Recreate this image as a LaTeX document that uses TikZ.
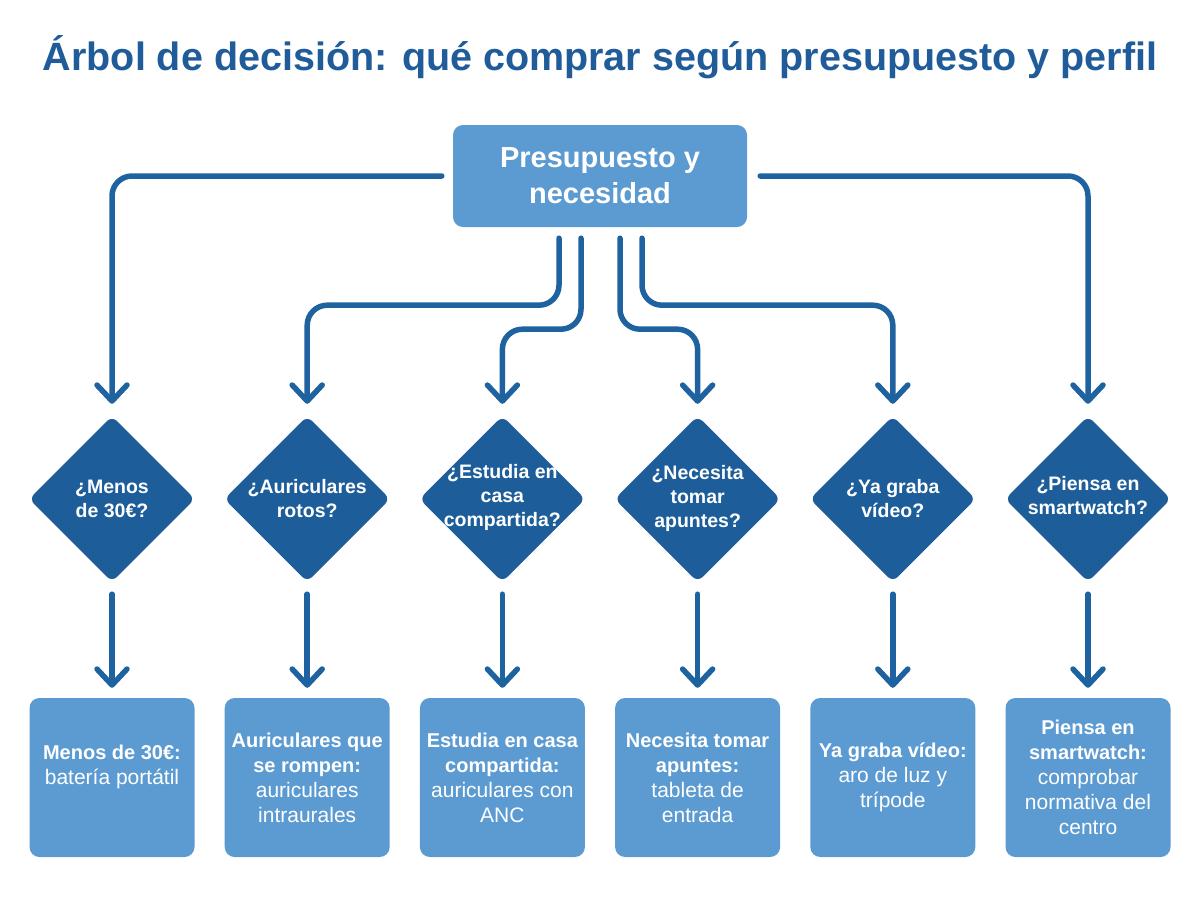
\documentclass[tikz,border=0pt]{standalone}
\usepackage{fontspec}
\setmainfont{Liberation Sans}
\usetikzlibrary{arrows.meta,shapes.geometric,calc}
\definecolor{titleblue}{HTML}{1F5C99}
\definecolor{lightbox}{HTML}{5B9BD1}
\definecolor{darkdia}{HTML}{1D5E9A}
\definecolor{lineblue}{HTML}{1F62A0}
\newcommand{\rg}[1]{{\fontsize{21}{25}\selectfont #1}}
\tikzset{
  topbox/.style={fill=lightbox, rounded corners=10pt, minimum width=294pt, minimum height=102pt, inner sep=0pt},
  dia/.style={diamond, fill=darkdia, rounded corners=7pt, minimum width=166pt, minimum height=166pt, inner sep=0pt},
  leaf/.style={fill=lightbox, rounded corners=10pt, minimum width=165pt, minimum height=159pt, inner sep=0pt},
  wtext/.style={text=white, align=center, font=\fontsize{20}{25}\selectfont, inner sep=0pt},
  dtext/.style={wtext, font=\bfseries\fontsize{19.5}{24}\selectfont},
  conn/.style={draw=lineblue, line width=5.5pt, line cap=round, line join=round, rounded corners=20pt,
    -{Straight Barb[length=16pt, width=30pt, line cap=round, line join=round]}},
}
\begin{document}
\begin{tikzpicture}[x=1pt,y=-1pt]
\useasboundingbox (0,0) rectangle (1200,900);
\fill[white] (0,0) rectangle (1200,900);
\node[anchor=base, text=titleblue, font=\bfseries\fontsize{39.5}{44}\selectfont, inner sep=0pt] (title) at (600,70) {Árbol de decisión: qué comprar según presupuesto y perfil};

\node[topbox] (top) at (600,176) {};
\node[wtext, font=\bfseries\fontsize{29}{36}\selectfont] (topt) at (600,176) {Presupuesto y\\necesidad};

\foreach \i/\x in {1/112,2/307.2,3/502.4,4/697.6,5/892.8,6/1088}{
  \node[dia] (d\i) at (\x,499) {};
  \node[leaf] (b\i) at (\x,777.5) {};
  \coordinate (dt\i) at ($(d\i.north)+(0,-12)$);
}
\node[dtext] (d1t) at (d1) {¿Menos\\de 30€?};
\node[dtext] (d2t) at (d2) {¿Auriculares\\rotos?};
\node[dtext] (d3t) at ($(d3)+(0,-2)$) {¿Estudia en\\casa\\compartida?};
\node[dtext] (d4t) at ($(d4)+(0,-1)$) {¿Necesita\\tomar\\apuntes?};
\node[dtext] (d5t) at (d5) {¿Ya graba\\vídeo?};
\node[dtext] (d6t) at ($(d6)+(0,-3)$) {¿Piensa en\\smartwatch?};

\node[wtext] (b1t) at ($(b1)+(0,-11)$) {\textbf{Menos de 30€:}\\\rg{batería portátil}};
\node[wtext] (b2t) at (b2) {\textbf{Auriculares que}\\\textbf{se rompen:}\\\rg{auriculares}\\\rg{intraurales}};
\node[wtext] (b3t) at (b3) {\textbf{Estudia en casa}\\\textbf{compartida:}\\\rg{auriculares con}\\\rg{ANC}};
\node[wtext] (b4t) at (b4) {\textbf{Necesita tomar}\\\textbf{apuntes:}\\\rg{tableta de}\\\rg{entrada}};
\node[wtext] (b5t) at (b5) {\textbf{Ya graba vídeo:}\\\rg{aro de luz y}\\\rg{trípode}};
\node[wtext] (b6t) at (b6) {\textbf{Piensa en}\\\textbf{smartwatch:}\\\rg{comprobar}\\\rg{normativa del}\\\rg{centro}};

\draw[conn] ([xshift=-11pt]top.west) -| (dt1);
\draw[conn] ([xshift=-41pt,yshift=-11pt]top.south) -- ++(0,67) -| (dt2);
\draw[conn] ([xshift=-19pt,yshift=-11pt]top.south) -- ++(0,91) -| (dt3);
\draw[conn] ([xshift=20pt,yshift=-11pt]top.south) -- ++(0,91) -| (dt4);
\draw[conn] ([xshift=42pt,yshift=-11pt]top.south) -- ++(0,67) -| (dt5);
\draw[conn] ([xshift=13pt]top.east) -| (dt6);

\foreach \i in {1,...,6}{
  \draw[conn] ([yshift=-12pt]d\i.south) -- ([yshift=10pt]b\i.north);
}
\end{tikzpicture}
\end{document}
